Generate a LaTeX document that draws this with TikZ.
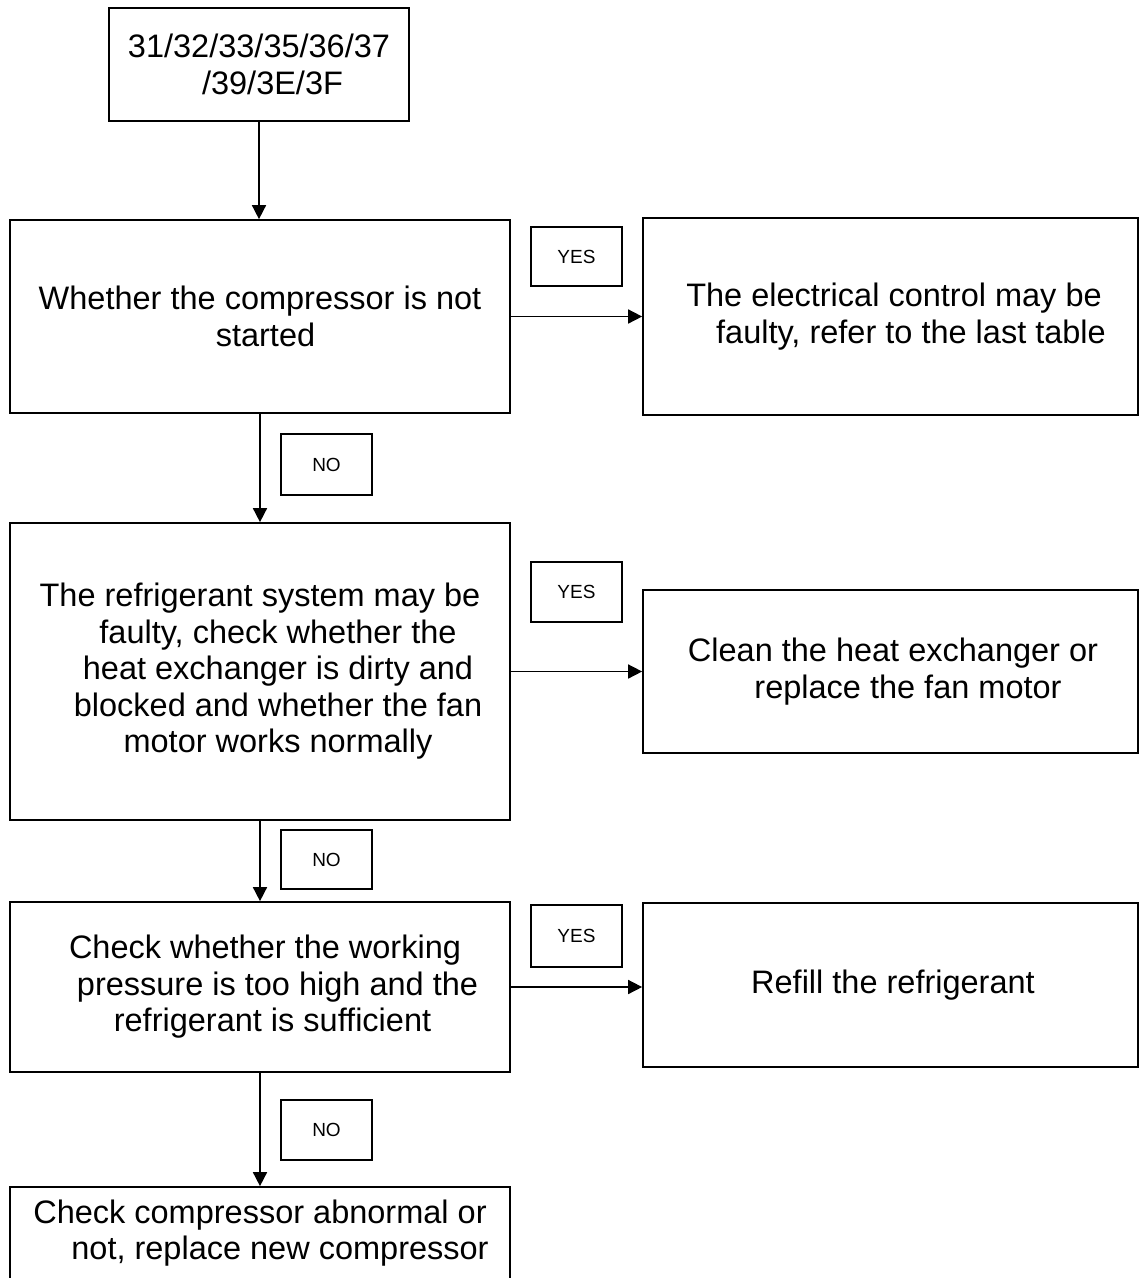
\documentclass[tikz,border=0pt]{standalone}
\usepackage{fontspec}
\setmainfont{Liberation Sans}
\usetikzlibrary{arrows.meta}
\begin{document}
\begin{tikzpicture}[x=1pt,y=-1pt,
  box/.style={draw, line width=1.7pt, inner sep=0pt, align=center, font=\fontsize{32.5}{36.5}\selectfont},
  txt/.style={inner sep=0pt, align=center, font=\fontsize{32.5}{36.5}\selectfont},
  lbl/.style={draw, line width=1.5pt, inner sep=0pt, minimum width=91pt, font=\fontsize{19}{22}\selectfont},
  arr/.style={line width=1.6pt, -{Triangle[length=14pt,width=14pt]}}]
\useasboundingbox (0,0) rectangle (1139,1278);

\node[box, minimum width=300pt, minimum height=113pt] (start) at (259,64.5)
  {31/32/33/35/36/37\\\hspace*{27pt}/39/3E/3F};

\node[box, minimum width=500pt, minimum height=193pt] (b2) at (260,316.5)
  {Whether the compressor is not\\\hspace*{11pt}started};
\node[box, minimum width=495pt, minimum height=197pt] (r1) at (890.5,316.5)
  {\hspace*{7pt}The electrical control may be\\\hspace*{41pt}faulty, refer to the last table};

\node[box, minimum width=500pt, minimum height=297pt] (b3) at (260,671.5)
  {The refrigerant system may be\\
   \hspace*{36pt}faulty, check whether the\\
   \hspace*{36pt}heat exchanger is dirty and\\
   \hspace*{36pt}blocked and whether the fan\\
   \hspace*{36pt}motor works normally};
\node[box, minimum width=495pt, minimum height=163pt] (r2) at (890.5,671.5)
  {\hspace*{5pt}Clean the heat exchanger or\\\hspace*{35pt}replace the fan motor};

\node[box, minimum width=500pt, minimum height=170pt] (b4) at (260,987)
  {\hspace*{10pt}Check whether the working\\
   \hspace*{35pt}pressure is too high and the\\
   \hspace*{25pt}refrigerant is sufficient};
\node[box, minimum width=495pt, minimum height=164pt] (r3) at (890.5,985)
  {\hspace*{5pt}Refill the refrigerant};

\node[box, minimum width=500pt, minimum height=120pt] (b5) at (260,1247) {};
\node[txt] (b5t) at (260,1233)
  {Check compressor abnormal or\\\hspace*{40pt}not, replace new compressor};

\node[lbl, minimum height=59pt] (yes1) at (576.5,256.5) {YES};
\node[lbl, minimum height=60pt] (yes2) at (576.5,592) {YES};
\node[lbl, minimum height=62pt] (yes3) at (576.5,936) {YES};
\node[lbl, minimum height=61pt] (no1) at (326.5,464.5) {NO};
\node[lbl, minimum height=59pt] (no2) at (326.5,859.5) {NO};
\node[lbl, minimum height=60pt] (no3) at (326.5,1130) {NO};

\draw[arr] (start.south) -- (start.south |- b2.north);
\draw[arr] (b2.south) -- (b3.north);
\draw[arr] (b3.south) -- (b4.north);
\draw[arr] (b4.south) -- (b5.north);
\draw[arr] (b2.east) -- (r1.west);
\draw[arr] (b3.east) -- (r2.west);
\draw[arr] (b4.east) -- (b4.east -| r3.west);
\end{tikzpicture}
\end{document}
